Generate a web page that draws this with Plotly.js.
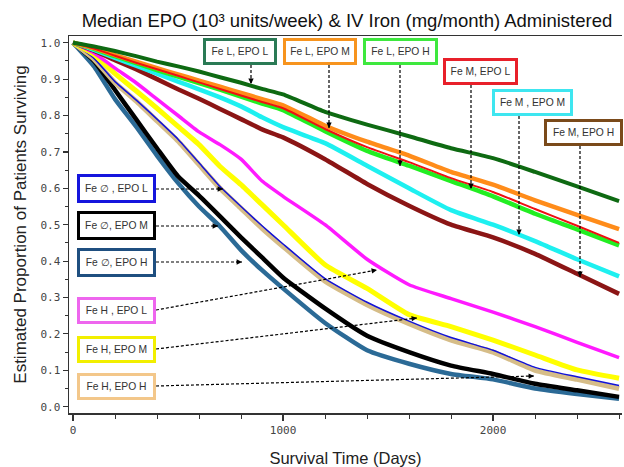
<!DOCTYPE html>
<html><head><meta charset="utf-8">
<script src="https://cdn.plot.ly/plotly-3.0.1.min.js"></script>
<style>html,body{margin:0;padding:0;background:#fff}#chart{width:624px;height:467px}</style>
</head><body><div id="chart"></div>
<script>
// Survival time (days)
const days = [0,100,200,300,400,500,600,700,800,900,1000,1200,1400,1600,1800,2000,2200,2400,2600];

// Estimated proportion surviving, per Fe / EPO group
const feL_epoL = [1.0,0.99,0.977,0.963,0.948,0.935,0.921,0.905,0.89,0.873,0.858,0.81,0.775,0.743,0.71,0.683,0.645,0.605,0.565];
const feL_epoM = [1.0,0.985,0.966,0.948,0.93,0.913,0.896,0.879,0.862,0.845,0.828,0.772,0.728,0.69,0.645,0.61,0.567,0.527,0.488];
const feL_epoH = [1.0,0.983,0.963,0.944,0.925,0.907,0.889,0.871,0.852,0.833,0.815,0.757,0.703,0.662,0.62,0.578,0.53,0.487,0.443];
const feM_epoL = [1.0,0.984,0.964,0.945,0.927,0.909,0.891,0.873,0.855,0.837,0.82,0.763,0.713,0.672,0.628,0.59,0.543,0.497,0.45];
const feM_epoM = [1.0,0.98,0.958,0.937,0.915,0.893,0.872,0.85,0.825,0.795,0.768,0.724,0.662,0.6,0.54,0.5,0.455,0.405,0.358];
const feM_epoH = [1.0,0.978,0.952,0.927,0.9,0.872,0.846,0.818,0.79,0.762,0.74,0.68,0.612,0.552,0.5,0.465,0.42,0.365,0.31];
const fe0_epoL = [1.0,0.957,0.893,0.843,0.79,0.735,0.67,0.605,0.55,0.497,0.447,0.352,0.287,0.235,0.19,0.155,0.108,0.082,0.058];
const fe0_epoM = [1.0,0.95,0.87,0.79,0.71,0.633,0.58,0.523,0.465,0.41,0.355,0.27,0.195,0.15,0.113,0.09,0.063,0.045,0.027];
const fe0_epoH = [1.0,0.935,0.845,0.77,0.69,0.615,0.55,0.495,0.43,0.375,0.325,0.23,0.155,0.118,0.09,0.075,0.05,0.035,0.022];
const feH_epoL = [1.0,0.972,0.93,0.89,0.845,0.8,0.755,0.72,0.68,0.62,0.578,0.5,0.405,0.335,0.297,0.26,0.22,0.177,0.135];
const feH_epoM = [1.0,0.968,0.915,0.868,0.82,0.77,0.72,0.66,0.61,0.555,0.5,0.39,0.325,0.253,0.22,0.183,0.142,0.101,0.078];
const feH_epoH = [1.0,0.955,0.89,0.84,0.785,0.73,0.665,0.6,0.545,0.49,0.44,0.345,0.28,0.228,0.183,0.15,0.1,0.075,0.05];

const labels = {
  feL_epoL:'Fe L, EPO L', feL_epoM:'Fe L, EPO M', feL_epoH:'Fe L, EPO H',
  feM_epoL:'Fe M, EPO L', feM_epoM:'Fe M , EPO M', feM_epoH:'Fe M, EPO H',
  fe0_epoL:'Fe \u2205 , EPO L', fe0_epoM:'Fe \u2205, EPO M', fe0_epoH:'Fe \u2205, EPO H',
  feH_epoL:'Fe H , EPO L', feH_epoM:'Fe H, EPO M', feH_epoH:'Fe H, EPO H'
};

const series = [
  {key:'fe0_epoH', y:fe0_epoH, color:'#2b6a96', w:4.5},
  {key:'fe0_epoM', y:fe0_epoM, color:'#000000', w:4.5},
  {key:'feH_epoH', y:feH_epoH, color:'#d6bd88', w:5},
  {key:'fe0_epoL', y:fe0_epoL, color:'#1212d8', w:1.5},
  {key:'feH_epoM', y:feH_epoM, color:'#ffff00', w:5},
  {key:'feH_epoL', y:feH_epoL, color:'#ff1aff', w:3.5},
  {key:'feM_epoH', y:feM_epoH, color:'#8b1515', w:4.5},
  {key:'feM_epoM', y:feM_epoM, color:'#1ef0f0', w:4.5},
  {key:'feL_epoH', y:feL_epoH, color:'#22ee22', w:4.5},
  {key:'feL_epoM', y:feL_epoM, color:'#ff8c1a', w:4.5},
  {key:'feM_epoL', y:feM_epoL, color:'#ee1111', w:2},
  {key:'feL_epoL', y:feL_epoL, color:'#0e6a12', w:4}
];

const traces = series.map(s => ({
  type:'scatter', mode:'lines', x:days, y:s.y, name:labels[s.key],
  line:{color:s.color, width:s.w, shape:'spline', smoothing:0.5}, showlegend:false, hoverinfo:'skip'
}));

// pixel -> paper helpers (plot area: x 69..622, y 36..413)
const L=69, R=622, T=36, B=413;
const px = v => (v-L)/(R-L);
const py = v => (B-v)/(B-T);

const boxes = [
  {key:'feL_epoL', cx:239.5, cy:51.5, w:74, h:27, bc:'#2a7a55'},
  {key:'feL_epoM', cx:320, cy:51.5, w:74, h:27, bc:'#f7941e'},
  {key:'feL_epoH', cx:400.5, cy:51.5, w:75, h:27, bc:'#3ee83e'},
  {key:'feM_epoL', cx:480.5, cy:72, w:75, h:27, bc:'#e8202a'},
  {key:'feM_epoM', cx:532, cy:102.5, w:81, h:27, bc:'#3ee6f0'},
  {key:'feM_epoH', cx:583, cy:132.5, w:79, h:27, bc:'#7a4a1a'},
  {key:'fe0_epoL', cx:116.5, cy:188.5, w:79, h:29, bc:'#1515dd'},
  {key:'fe0_epoM', cx:116.5, cy:225.5, w:79, h:29, bc:'#000000'},
  {key:'fe0_epoH', cx:116.5, cy:262, w:79, h:29, bc:'#1f4f80'},
  {key:'feH_epoL', cx:116.5, cy:310, w:79, h:27, bc:'#ee66ee'},
  {key:'feH_epoM', cx:116.5, cy:349.5, w:79, h:27, bc:'#f2ef00'},
  {key:'feH_epoH', cx:116.5, cy:386, w:79, h:27, bc:'#f3c78a'}
];

const arrows = [
  [251,65,251,84],[329,65,329,128],[400,65,400,166],
  [471,85,471,189],[519,116,519,235],[580,146,580,277],
  [156,189,223,189],[156,226,218,226],[156,262,242,262],
  [156,310,377,270],[156,349,417,318],[156,386,534,376]
];

const shapes = arrows.map(a => ({
  type:'line', xref:'paper', yref:'paper',
  x0:px(a[0]), y0:py(a[1]), x1:px(a[2]), y1:py(a[3]),
  line:{color:'#000', width:1.2, dash:'3px,2px'}, layer:'above'
}));

const annotations = [];
arrows.forEach(a => {
  const dx=a[0]-a[2], dy=a[1]-a[3], n=Math.hypot(dx,dy);
  annotations.push({xref:'paper', yref:'paper', x:px(a[2]), y:py(a[3]), text:'',
    showarrow:true, ax:dx/n*7, ay:dy/n*7, arrowhead:2, arrowsize:0.9, arrowwidth:1.2,
    arrowcolor:'#000', standoff:0});
});
const bw=3, bp=2;
boxes.forEach(b => {
  annotations.push({xref:'paper', yref:'paper', x:px(b.cx), y:py(b.cy),
    xanchor:'center', yanchor:'middle', text:labels[b.key], showarrow:false,
    font:{family:'Liberation Sans, Arial, sans-serif', size:10.3, color:'#333'},
    bgcolor:'#ffffff', bordercolor:b.bc, borderwidth:bw, borderpad:bp,
    width:b.w-2*bp-2*bw, height:b.h-2*bp-2*bw, align:'center', valign:'middle'});
});

const tickFont = {family:'DejaVu Sans Mono, monospace', size:11, color:'#444'};
const layout = {
  width:624, height:467,
  margin:{l:L, r:624-R, t:T, b:467-B, pad:0},
  paper_bgcolor:'#fff', plot_bgcolor:'#fff',
  title:{text:'Median EPO (10\u00b3 units/week) & IV Iron (mg/month) Administered',
    font:{family:'Liberation Sans, Arial, sans-serif', size:18.5, color:'#111'},
    x:0.556, xanchor:'center', y:0.957, yanchor:'middle'},
  xaxis:{range:[-19,2614], tickvals:[0,1000,2000], ticktext:['0','1000','2000'],
    ticks:'outside', ticklen:6, tickwidth:1.2, tickcolor:'#333',
    minor:{dtick:200, tick0:0, ticks:'outside', ticklen:4, tickcolor:'#333', tickwidth:1},
    showline:true, linecolor:'#333', linewidth:1.5, mirror:true, showgrid:false, zeroline:false,
    tickfont:tickFont,
    title:{text:'Survival Time (Days)', standoff:16,
      font:{family:'Liberation Sans, Arial, sans-serif', size:16.5, color:'#222'}}},
  yaxis:{range:[-0.0173,1.0184], dtick:0.1, tick0:0, tickformat:'.1f',
    ticks:'outside', ticklen:5, tickwidth:1.2, tickcolor:'#333',
    minor:{dtick:0.05, tick0:0, ticks:'outside', ticklen:3, tickcolor:'#333', tickwidth:1},
    showline:true, linecolor:'#333', linewidth:1.5, showgrid:false, zeroline:false,
    tickfont:tickFont,
    title:{text:'Estimated Proportion of Patients Surviving', standoff:9,
      font:{family:'Liberation Sans, Arial, sans-serif', size:17, color:'#222'}}},
  shapes:shapes, annotations:annotations, showlegend:false
};

Plotly.newPlot('chart', traces, layout, {staticPlot:true, displayModeBar:false});
</script></body></html>
